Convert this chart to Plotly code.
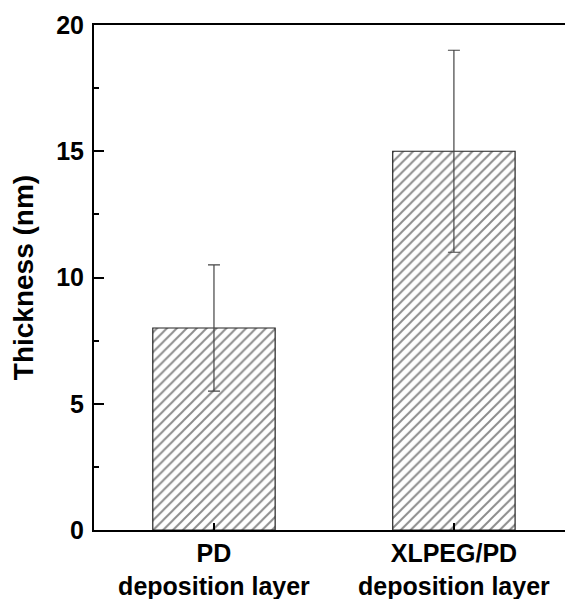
import plotly.graph_objects as go

categories = ["PD<br>deposition layer", "XLPEG/PD<br>deposition layer"]
thickness = [8.0, 15.0]
errors = [2.5, 4.0]
y_ticks = [0, 5, 10, 15, 20]

font_family = "Liberation Sans, Arial, sans-serif"

fig = go.Figure()
fig.add_trace(go.Bar(
    x=[0, 1],
    y=thickness,
    width=0.51,
    marker=dict(
        color="white",
        line=dict(color="#222222", width=1.2),
        pattern=dict(shape="/", fgcolor="#1a1a1a", bgcolor="white", size=7, solidity=0.28),
    ),
    error_y=dict(type="data", array=errors, visible=True, color="#444444", thickness=1.2, width=6),
    showlegend=False,
))

fig.update_layout(
    width=565, height=599,
    margin=dict(l=94, r=0, t=25, b=69),
    plot_bgcolor="white", paper_bgcolor="white",
    font=dict(family=font_family, color="black"),
)
fig.update_xaxes(
    range=[-0.5, 1.463],
    tickmode="array", tickvals=[0, 1],
    ticktext=["<b>" + c.replace("<br>", "</b><br><b>") + "</b>" for c in categories],
    tickfont=dict(size=25, family=font_family, color="black"),
    showline=True, linecolor="black", linewidth=2, mirror=True,
    ticks="inside", ticklen=7, tickwidth=2, tickcolor="black",
    showgrid=False, zeroline=False,
)
fig.update_yaxes(
    range=[0, 20],
    tickmode="array", tickvals=y_ticks, ticktext=[f"<b>{t}</b>" for t in y_ticks],
    tickfont=dict(size=25, family=font_family, color="black"),
    ticklabelstandoff=3,
    showline=True, linecolor="black", linewidth=2,
    ticks="inside", ticklen=10, tickwidth=2, tickcolor="black",
    minor=dict(ticks="inside", ticklen=5, tickwidth=2, tickcolor="black", dtick=2.5, tick0=0, showgrid=False),
    showgrid=False, zeroline=False,
    title=dict(text="<b>Thickness (nm)</b>", font=dict(size=28, family=font_family, color="black"), standoff=14),
)

fig.write_html("out.html")
